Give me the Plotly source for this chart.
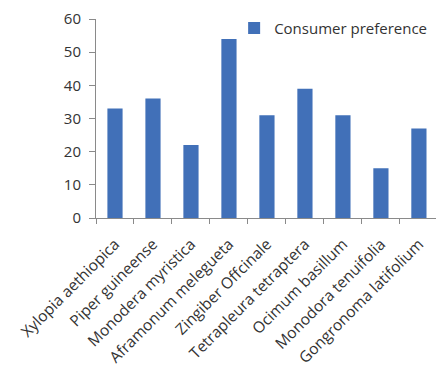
import plotly.graph_objects as go

species = [
    "Xylopia aethiopica",
    "Piper guineense",
    "Monodera myristica",
    "Aframonum melegueta",
    "Zingiber Offcinale",
    "Tetrapleura tetraptera",
    "Ocimum basillum",
    "Monodora tenuifolia",
    "Gongronoma latifolium",
]
preference = [33, 36, 22, 54, 31, 39, 31, 15, 27]
y_ticks = [0, 10, 20, 30, 40, 50, 60]

FONT = "Open Sans"
TEXT = "#333333"
AXIS_GREY = "#8a8a8a"

fig = go.Figure(
    go.Bar(
        x=species,
        y=preference,
        name="Consumer preference",
        marker=dict(color="#4170b8", line=dict(width=0)),
        width=0.4,
    )
)

fig.update_layout(
    width=436,
    height=370,
    margin=dict(l=96, r=0, t=19, b=152, autoexpand=False),
    paper_bgcolor="white",
    plot_bgcolor="white",
    font=dict(family=FONT, size=15, color=TEXT),
    showlegend=True,
    legend=dict(
        x=0.537,
        xanchor="left",
        y=0.968,
        yanchor="top",
        xref="container",
        yref="container",
        bgcolor="rgba(0,0,0,0)",
        font=dict(family=FONT, size=15, color=TEXT),
    ),
)

fig.update_xaxes(
    range=[-0.5, 8.45],
    tickangle=-45,
    tickson="boundaries",
    ticks="outside",
    ticklen=5,
    tickcolor=AXIS_GREY,
    showline=True,
    linecolor=AXIS_GREY,
    linewidth=1,
    showgrid=False,
    ticklabelstandoff=10,
    tickfont=dict(family=FONT, size=15.5, color=TEXT),
)

fig.update_yaxes(
    range=[0, 60],
    tickvals=y_ticks,
    ticks="outside",
    ticklen=6,
    tickcolor=AXIS_GREY,
    showline=True,
    linecolor=AXIS_GREY,
    linewidth=1,
    showgrid=False,
    zeroline=False,
    ticklabelstandoff=5,
    tickfont=dict(family=FONT, size=15, color=TEXT),
)

fig.write_html("out.html")
